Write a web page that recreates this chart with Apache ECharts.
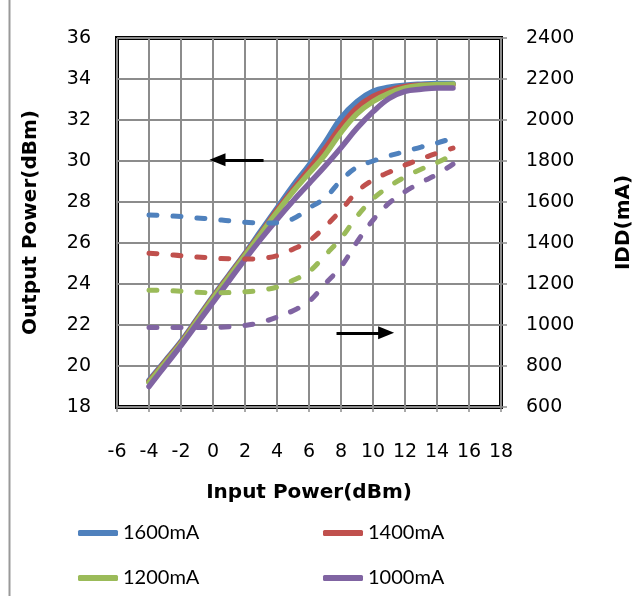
<!DOCTYPE html>
<html>
<head>
<meta charset="utf-8">
<script src="https://cdn.jsdelivr.net/npm/echarts@6/dist/echarts.min.js"></script>
<style>
html,body{margin:0;padding:0;background:#fff;}
#chart{width:642px;height:596px;}
</style>
</head>
<body>
<div id="chart"></div>
<script>
// ---- data ----
const inputPower = [-4,-3,-2,-1,0,1,2,3,4,5,6,7,8,9,10,11,12,13,14,15];
const seriesNames = ['1600mA','1400mA','1200mA','1000mA'];
const out1600 = [19.3,20.25,21.2,22.3,23.4,24.45,25.5,26.6,27.7,28.8,29.8,30.9,32.1,32.9,33.4,33.6,33.7,33.75,33.78,33.78];
const out1400 = [19.25,20.2,21.15,22.25,23.35,24.4,25.45,26.5,27.6,28.6,29.6,30.6,31.7,32.6,33.15,33.45,33.64,33.7,33.72,33.72];
const out1200 = [19.2,20.15,21.1,22.2,23.3,24.35,25.4,26.45,27.5,28.5,29.4,30.3,31.4,32.3,32.9,33.3,33.56,33.68,33.73,33.75];
const out1000 = [19.0,20.0,21.0,22.05,23.1,24.15,25.2,26.2,27.15,28.05,28.9,29.75,30.65,31.6,32.4,33.05,33.4,33.5,33.56,33.56];
const idd1600 = [1537,1533,1529,1522,1516,1508,1501,1497,1499,1518,1570,1620,1705,1770,1800,1825,1846,1868,1888,1912];
const idd1400 = [1350,1345,1338,1332,1326,1323,1322,1325,1338,1370,1410,1480,1560,1650,1708,1745,1780,1810,1838,1863];
const idd1200 = [1170,1168,1165,1160,1157,1158,1162,1170,1185,1218,1260,1340,1423,1530,1615,1675,1722,1760,1792,1830];
const idd1000 = [988,988,988,988,988,992,998,1013,1038,1070,1115,1200,1285,1405,1512,1594,1651,1695,1735,1785];
// annotation arrows (data units on left axis): [xStart, xEnd, y]
const arrowLeft = [3.16, 0.28, 30.06];
const arrowRight = [7.72, 10.82, 21.62];

const colors = ['#4F81BD','#C0504D','#9BBB59','#8064A2'];
const outs = [out1600,out1400,out1200,out1000];
const idds = [idd1600,idd1400,idd1200,idd1000];
const pair = arr => inputPower.map((x,i)=>[x, arr[i]]);

const tickFont = {fontFamily:'DejaVu Sans', fontSize:19, color:'#000'};
const titleFont = {fontFamily:'DejaVu Sans', fontWeight:'bold', fontSize:20, color:'#000'};
const gridColor = '#8c8c8c';

const series = [];
outs.forEach((arr,k)=>{
  const s = {
    name: seriesNames[k], type:'line', xAxisIndex:0, yAxisIndex:0,
    data: pair(arr), symbol:'none', smooth:0.4,
    lineStyle:{color:colors[k], width:5.5, cap:'round'},
    itemStyle:{color:colors[k]}, z:2+k
  };
  if (k===0) {
    s.markLine = {
      silent:true, symbol:['none','triangle'], symbolSize:[13,16],
      label:{show:false},
      lineStyle:{color:'#000', width:3, type:'solid'},
      emphasis:{disabled:true},
      data:[
        [{coord:[arrowLeft[0],arrowLeft[2]]},{coord:[arrowLeft[1],arrowLeft[2]]}],
        [{coord:[arrowRight[0],arrowRight[2]]},{coord:[arrowRight[1],arrowRight[2]]}]
      ]
    };
  }
  series.push(s);
});
idds.forEach((arr,k)=>{
  series.push({
    name: seriesNames[k]+' IDD', type:'line', xAxisIndex:0, yAxisIndex:1,
    data: pair(arr), symbol:'none', smooth:0.4,
    lineStyle:{color:colors[k], width:5, type:[8,16], cap:'round'},
    itemStyle:{color:colors[k]}, z:10+k
  });
});

const legendPos = [[73,518],[318,518],[73,563],[318,563]];
const legends = seriesNames.map((n,k)=>({
  data:[n], left:legendPos[k][0], top:legendPos[k][1],
  icon:'roundRect', itemWidth:40, itemHeight:6, itemGap:0,
  textStyle:{fontFamily:'Lato', fontSize:20, color:'#000'},
  selectedMode:false
}));

const chart = echarts.init(document.getElementById('chart'), null, {renderer:'canvas'});
chart.setOption({
  animation:false,
  backgroundColor:'#fff',
  grid:{left:117, right:129, top:38, bottom:189, show:true, borderColor:'#000', borderWidth:4, backgroundColor:'transparent'},
  legend: legends,
  graphic:[{type:'line', shape:{x1:9.5,y1:0,x2:9.5,y2:596}, style:{stroke:'#999', lineWidth:2}}],
  xAxis:{
    type:'value', min:-6, max:18, interval:2,
    axisLine:{show:false},
    axisTick:{show:true, length:5, lineStyle:{color:gridColor, width:1.5}},
    splitLine:{show:true, lineStyle:{color:gridColor, width:2}},
    axisLabel:Object.assign({margin:36, formatter:v=>String(v)}, tickFont),
    name:'Input Power(dBm)', nameLocation:'middle', nameGap:76,
    nameTextStyle:titleFont
  },
  yAxis:[{
    type:'value', min:18, max:36, interval:2, position:'left',
    axisLine:{show:false}, axisTick:{show:false},
    splitLine:{show:true, lineStyle:{color:gridColor, width:2}},
    axisLabel:Object.assign({margin:26, formatter:v=>String(v)}, tickFont),
    name:'Output Power(dBm)', nameLocation:'middle', nameGap:76,
    nameTextStyle:titleFont
  },{
    type:'value', min:600, max:2400, interval:200, position:'right',
    axisLine:{show:false},
    axisTick:{show:true, length:6, lineStyle:{color:gridColor, width:1.5}},
    splitLine:{show:false},
    axisLabel:Object.assign({margin:25, formatter:v=>String(v)}, tickFont),
    name:'IDD(mA)', nameLocation:'middle', nameGap:113,
    nameTextStyle:titleFont
  }],
  series: series
});
</script>
</body>
</html>
